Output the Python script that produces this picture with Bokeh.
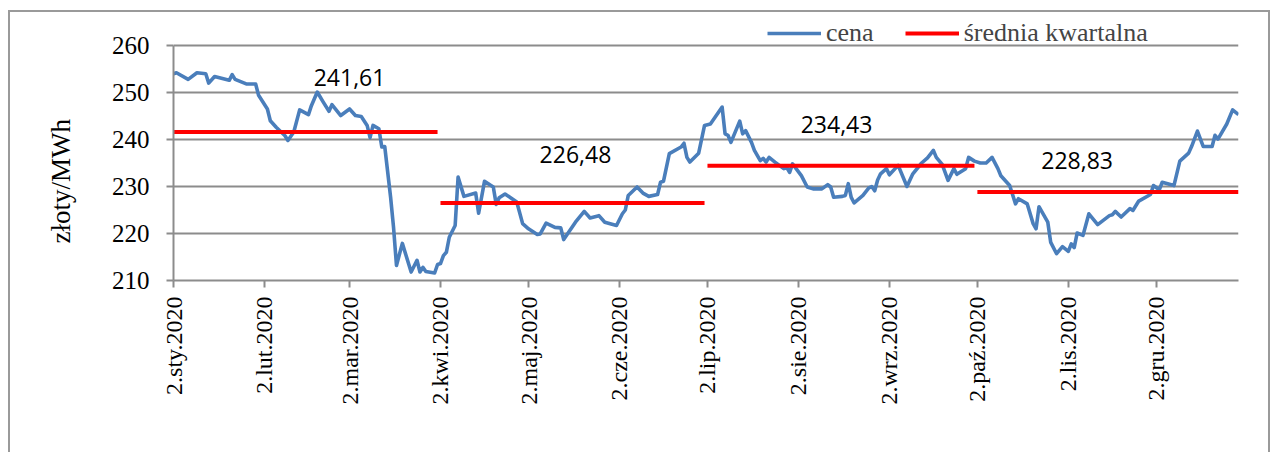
import math
import pandas as pd
from bokeh.plotting import figure
from bokeh.models import Range1d, FixedTicker, Legend, LegendItem, Title
from bokeh.core.properties import value
from bokeh.embed import file_html
from bokeh.resources import INLINE

START = pd.Timestamp("2020-01-02")

# trading days, counted as days after 2 Jan 2020, and the price (zł/MWh)
day = [0, 1, 5, 8, 11, 12, 14, 19, 20, 21, 25, 28, 29, 32, 33, 35, 38, 39, 41, 43,
       46, 47, 49, 51, 53, 54, 57, 60, 62, 64, 66, 67, 68, 70, 71, 72, 74, 75, 76, 78,
       81, 83, 84, 85, 86, 89, 90,
       91, 92, 93, 94, 96, 97, 99, 103, 104, 106, 109, 110, 111, 113, 117, 119, 121, 124,
       125, 127, 130, 132, 133, 137, 140, 142, 145, 147, 151, 153, 154, 155, 158, 160,
       162, 165, 166, 167, 169, 173, 174, 175, 176, 179, 181,
       183, 187, 188, 189, 190, 193, 194, 195, 197, 198, 200, 201, 202, 203, 205, 208,
       209, 210, 211, 214, 216, 218, 221, 223, 224, 225, 228, 229, 230, 231, 232, 235,
       237, 238, 239, 240, 241, 243, 244, 247, 250, 252, 255, 257, 259, 260, 262, 264,
       266, 267, 270, 271,
       273, 275, 277, 279, 281, 282, 285, 287, 288, 291, 293, 294, 295, 298, 299, 301,
       303, 305, 306, 307, 308, 310, 312, 315, 319, 320, 321, 323, 326, 327, 329, 333,
       334, 336, 337, 341, 343, 346, 347, 349, 351, 354, 355, 356, 359, 361, 363]

cena = [254.0, 254.2, 252.8, 254.2, 254.0, 252.0, 253.4, 252.6, 253.8, 252.8, 251.8, 251.8,
        249.4, 246.5, 244.0, 242.6, 240.8, 239.8, 241.6, 246.3,
        245.3, 247.2, 250.1, 248.0, 246.0, 247.4, 245.1, 246.5, 245.1, 244.9, 243.0, 240.4,
        243.0, 242.3, 238.4, 238.5, 227.7, 221.3, 213.2, 217.9,
        211.8, 214.3, 211.8, 212.8, 211.9, 211.6, 213.4,
        213.6, 215.3, 216.0, 219.2, 221.7, 232.0, 227.9, 228.6, 224.3, 231.1, 229.9, 226.2,
        227.6, 228.4, 226.7, 222.1, 221.0, 219.8,
        219.9, 222.2, 221.3, 221.2, 218.7, 222.4, 224.7, 223.3, 223.8, 222.4, 221.7, 224.2,
        225.0, 228.1, 229.9, 228.6,
        227.9, 228.3, 230.9, 231.1, 237.0, 238.4, 239.2, 236.2, 235.2, 237.1, 243.0,
        243.3, 246.9, 241.2, 240.9, 239.4, 243.9, 241.2, 241.9, 239.4, 237.7, 235.5, 236.0,
        235.2, 236.2, 235.2, 233.8,
        234.1, 233.0, 234.8, 232.3, 229.9, 229.5, 229.5, 230.4, 229.9, 227.7, 227.9, 228.1,
        230.6, 227.7, 226.5, 228.1,
        229.7, 230.0, 229.1, 231.4, 232.7, 233.8, 232.5, 234.5, 230.0, 232.7, 235.0, 236.1,
        237.7, 236.2, 234.7, 231.3,
        233.8, 232.6, 233.8, 236.2,
        235.4, 235.0, 235.0, 236.2, 233.8, 232.3, 230.2, 226.3, 227.4, 226.3, 222.1, 221.0,
        225.7, 222.4, 218.1, 215.7,
        217.2, 216.2, 217.8, 217.0, 220.1, 219.6, 224.2, 221.9, 223.8, 224.0, 224.7, 223.5,
        225.3, 224.9, 226.9, 228.3,
        230.2, 229.3, 230.9, 230.2, 235.4, 237.1, 238.5, 241.8, 238.5, 238.5, 240.9, 240.1,
        243.3, 246.3, 245.3]

quarter_start = ["2020-01-02", "2020-04-02", "2020-07-02", "2020-10-02"]
quarter_end = ["2020-04-01", "2020-07-01", "2020-10-01", "2020-12-30"]
quarter_mean = [241.61, 226.48, 234.43, 228.83]
quarter_text = ["241,61", "226,48", "234,43", "228,83"]

tick_labels = ["2.sty.2020", "2.lut.2020", "2.mar.2020", "2.kwi.2020", "2.maj.2020",
               "2.cze.2020", "2.lip.2020", "2.sie.2020", "2.wrz.2020", "2.paź.2020",
               "2.lis.2020", "2.gru.2020"]
y_ticks = [210, 220, 230, 240, 250, 260]
y_title = "złoty/MWh"

# ---- derived values -------------------------------------------------------
def off(d):
    return (pd.Timestamp(d) - START).days

q_x0 = [off(d) for d in quarter_start]
q_x1 = [off(d) for d in quarter_end]
tick_pos = [off(pd.Timestamp(2020, m, 2)) for m in range(1, 13)]

# label placement (layout)
lab_x = [60, 137, 226, 308]
lab_y = [253.1, 236.8, 243.2, 235.6]

GRID = "#8c8c8c"
SERIF = "Liberation Serif"

# the frame reaches above the 260 line so that the legend fits inside it
p = figure(width=1262, height=442, output_backend="svg", toolbar_location=None,
           x_range=Range1d(0, 363), y_range=Range1d(210, 266.6),
           min_border_left=162, min_border_right=34, min_border_top=2,
           min_border_bottom=174)
p.styles = {"margin-left": "8px", "margin-top": "10px",
            "border-left": "2px solid #9a9a9a", "border-top": "2px solid #9a9a9a",
            "border-right": "2px solid #9a9a9a"}
p.outline_line_color = None
p.background_fill_color = "white"
p.border_fill_color = "white"

p.xgrid.grid_line_color = None
p.ygrid.grid_line_color = GRID
p.ygrid.grid_line_width = 2
p.ygrid.ticker = FixedTicker(ticks=y_ticks)

p.yaxis.ticker = FixedTicker(ticks=y_ticks)
p.yaxis.bounds = (y_ticks[0], y_ticks[-1])
p.xaxis.ticker = FixedTicker(ticks=tick_pos)
p.xaxis.major_label_overrides = {t: l for t, l in zip(tick_pos, tick_labels)}
p.xaxis.major_label_orientation = math.pi / 2

for ax in (p.xaxis, p.yaxis):
    ax.axis_line_color = GRID
    ax.axis_line_width = 2
    ax.major_tick_line_color = GRID
    ax.major_tick_line_width = 2
    ax.major_tick_out = 7
    ax.major_tick_in = 0
    ax.minor_tick_line_color = None
    ax.major_label_text_font = SERIF
    ax.major_label_text_color = "black"
p.yaxis.major_label_text_font_size = "25px"
p.xaxis.major_label_text_font_size = "24px"
p.yaxis.major_label_standoff = 17
p.xaxis.major_label_standoff = 9

# y-axis title as a side title, placed a little below the middle as in the original
p.add_layout(Title(text=y_title, align="left", offset=37, standoff=66,
                   text_font=SERIF, text_font_size="27px", text_font_style="normal",
                   text_color="black"), "left")

line_r = p.line(day, cena, line_color="#4a7ebb", line_width=3.6, line_join="round")
seg_r = p.segment(x0=q_x0, y0=quarter_mean, x1=q_x1, y1=quarter_mean,
                  line_color="#ff0000", line_width=4)

p.text(x=lab_x, y=lab_y, text=quarter_text, text_font=value("Open Sans"),
       text_font_size="23px", text_align="center", text_baseline="middle",
       text_color="black")

legend = Legend(items=[LegendItem(label="cena", renderers=[line_r]),
                       LegendItem(label="średnia kwartalna", renderers=[seg_r])],
                orientation="horizontal", location=(594, 232),
                label_text_font=SERIF, label_text_font_size="26px",
                glyph_width=54, glyph_height=20, label_standoff=5, spacing=31,
                padding=0, margin=0, background_fill_alpha=0, border_line_color=None)
p.add_layout(legend)

open("out.html", "w").write(file_html(p, INLINE))
